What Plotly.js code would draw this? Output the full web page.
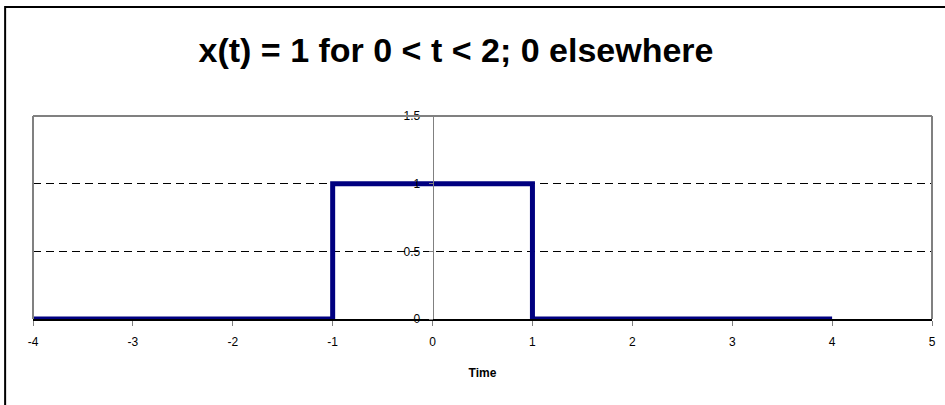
<!DOCTYPE html>
<html>
<head>
<meta charset="utf-8">
<script src="https://cdn.plot.ly/plotly-3.0.1.min.js"></script>
<style>
  html, body { margin: 0; padding: 0; background: #ffffff; }
  #chart { width: 945px; height: 405px; }
</style>
</head>
<body>
<div id="chart"></div>
<script>
// Rectangular pulse: time samples and signal values
var timeValues = [-4, -1, -1, 1, 1, 4];
var signalValues = [0, 0, 1, 1, 0, 0];

// Axis ticks
var xTickValues = [-4, -3, -2, -1, 0, 1, 2, 3, 4, 5];
var yTickValues = [0, 0.5, 1, 1.5];
var yTickLabels = ['0', '0.5', '1', '1.5'];

var font = 'Arial, "Liberation Sans", sans-serif';

var trace = {
  x: timeValues,
  y: signalValues,
  type: 'scatter',
  mode: 'lines',
  line: { color: '#000080', width: 5, shape: 'linear' },
  hoverinfo: 'skip',
  showlegend: false
};

// the y axis crosses the x axis at t = 0
var xMin = -4, xMax = 5;
var yAxisPos = (0 - xMin) / (xMax - xMin);

var layout = {
  width: 945,
  height: 405,
  margin: { l: 33, r: 13, t: 116, b: 86 },
  paper_bgcolor: '#ffffff',
  plot_bgcolor: '#ffffff',
  font: { family: font, color: '#000000', size: 12 },
  title: {
    text: '<b>x(t) = 1 for 0 < t < 2; 0 elsewhere</b>',
    font: { family: font, size: 34, color: '#000000' },
    x: 456 / 945, xref: 'container', xanchor: 'center',
    y: 1 - 50 / 405, yref: 'container', yanchor: 'middle'
  },
  xaxis: {
    range: [xMin, xMax],
    tickvals: xTickValues,
    ticktext: xTickValues.map(String),
    ticks: 'outside', ticklen: 5, tickcolor: '#808080', tickwidth: 1,
    ticklabelstandoff: 6,
    showline: true, linecolor: '#000000', linewidth: 1.5,
    showgrid: false, zeroline: false,
    tickfont: { family: font, size: 12, color: '#000000' },
    title: { text: '<b>Time</b>', font: { family: font, size: 12, color: '#000000' }, standoff: 20 },
    fixedrange: true
  },
  yaxis: {
    range: [0, 1.5],
    tickvals: yTickValues,
    ticktext: yTickLabels,
    anchor: 'free',
    position: yAxisPos,
    ticks: 'outside', ticklen: 4, tickcolor: '#808080', tickwidth: 1,
    ticklabelstandoff: 6,
    showline: true, linecolor: '#808080', linewidth: 1,
    showgrid: true, gridcolor: '#000000', gridwidth: 1, griddash: '8px,5px',
    zeroline: false,
    tickfont: { family: font, size: 12, color: '#000000' },
    fixedrange: true
  },
  shapes: [
    // plot area frame (top, left, right)
    { type: 'line', xref: 'paper', yref: 'paper', x0: 0, x1: 1, y0: 1, y1: 1,
      line: { color: '#808080', width: 2 }, layer: 'above' },
    { type: 'line', xref: 'paper', yref: 'paper', x0: 0, x1: 0, y0: 0, y1: 1,
      line: { color: '#808080', width: 2 }, layer: 'above' },
    { type: 'line', xref: 'paper', yref: 'paper', x0: 1, x1: 1, y0: 0, y1: 1,
      line: { color: '#808080', width: 2 }, layer: 'above' },
    // chart area border
    { type: 'rect', xref: 'paper', yref: 'paper',
      x0: -0.031, x1: 1.05, y0: -0.6, y1: 1.537,
      line: { color: '#000000', width: 2 }, fillcolor: 'rgba(0,0,0,0)', layer: 'above' }
  ]
};

Plotly.newPlot('chart', [trace], layout, { displayModeBar: false, staticPlot: true });
</script>
</body>
</html>
